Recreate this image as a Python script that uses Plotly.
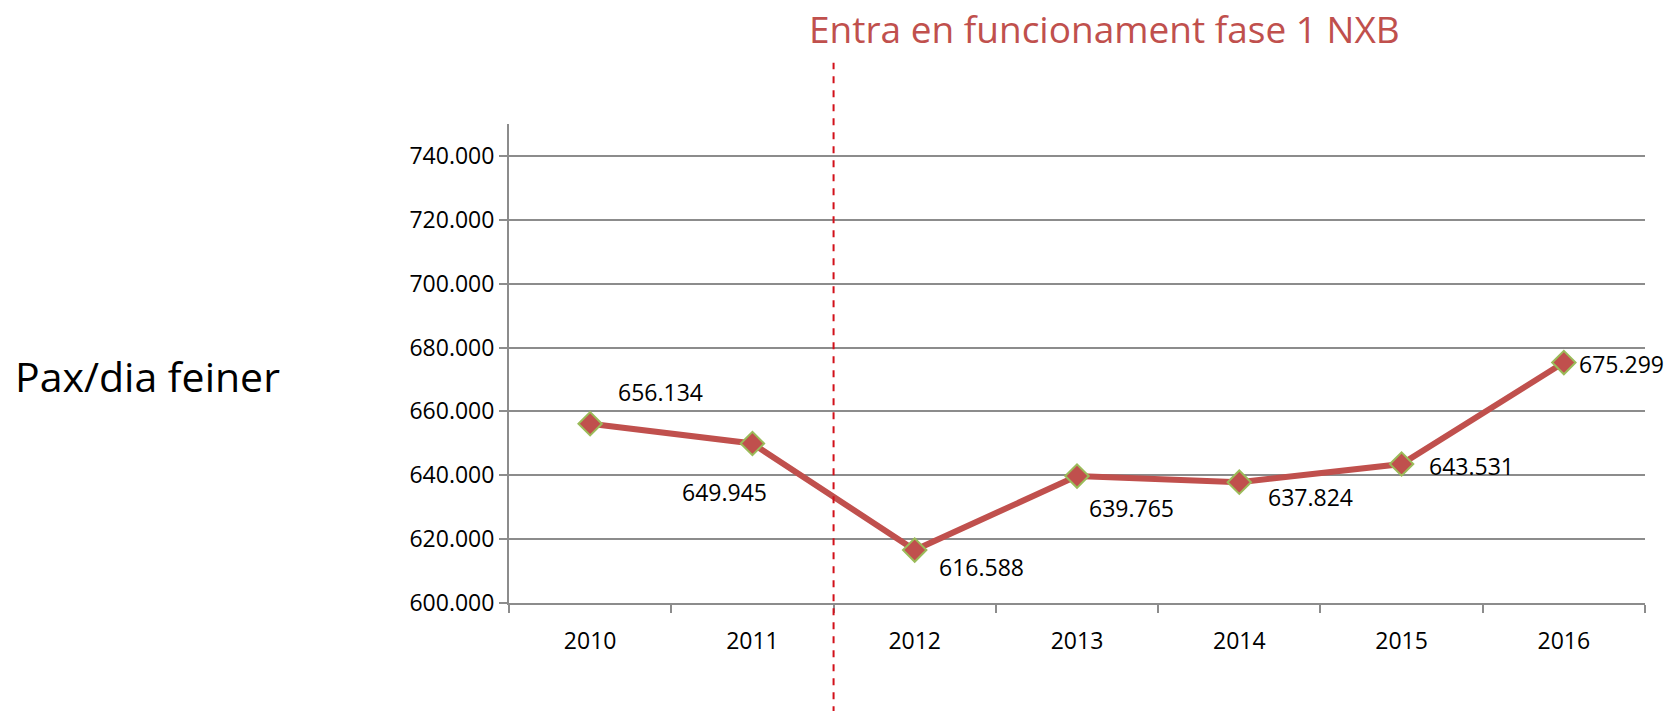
import plotly.graph_objects as go

years = ["2010", "2011", "2012", "2013", "2014", "2015", "2016"]
pax = [656.134, 649.945, 616.588, 639.765, 637.824, 643.531, 675.299]
label_text = ["656.134", "649.945", "616.588", "639.765", "637.824", "643.531", "675.299"]
ytick_vals = [600, 620, 640, 660, 680, 700, 720, 740]
ytick_text = ["600.000", "620.000", "640.000", "660.000", "680.000", "700.000", "720.000", "740.000"]

# label offsets in pixels (style, not data)
label_dx = [70, -28, 67, 54, 71, 70, 58]
label_dy = [32, -48, -17, -32, -15, -2, -1]

FONT = "Open Sans"
LINE_RED = "#C0504D"
GREEN = "#9BBB59"
GRID = "#8C8C8C"

fig = go.Figure()
fig.add_trace(go.Scatter(
    x=years, y=pax, mode="lines+markers",
    line=dict(color=LINE_RED, width=6),
    marker=dict(symbol="diamond", size=18, color=LINE_RED,
                line=dict(color=GREEN, width=2)),
    hoverinfo="skip", showlegend=False,
))

for i, (yv, t, dx, dy) in enumerate(zip(pax, label_text, label_dx, label_dy)):
    fig.add_annotation(x=i, y=yv, xref="x", yref="y", text=t, showarrow=False,
                       xshift=dx, yshift=dy, font=dict(family=FONT, size=23, color="#000000"))

# dashed vertical line between 2011 and 2012
fig.add_shape(type="line", xref="x", yref="paper", x0=1.5, x1=1.5, y0=-0.23, y1=1.128,
              line=dict(color="#D2101A", width=2, dash="7px,7px"), layer="above")

fig.add_annotation(xref="paper", yref="paper", x=(1104 - 509) / 1136, y=(603 - 28) / 479,
                   text="Entra en funcionament fase 1 NXB", showarrow=False,
                   xanchor="center", yanchor="middle",
                   font=dict(family=FONT, size=37, color=LINE_RED))
fig.add_annotation(xref="paper", yref="paper", x=(13 - 509) / 1136, y=(603 - 376) / 479,
                   text="Pax/dia feiner", showarrow=False, xanchor="left", yanchor="middle",
                   font=dict(family=FONT, size=41, color="#000000"))

fig.update_layout(
    width=1670, height=711,
    margin=dict(l=509, r=25, t=124, b=108),
    paper_bgcolor="white", plot_bgcolor="white",
    font=dict(family=FONT, size=23, color="#000000"),
    xaxis=dict(type="category", showgrid=False, showline=True, linecolor=GRID, linewidth=2,
               ticks="outside", tickson="boundaries", ticklen=8, tickcolor=GRID, tickwidth=2,
               ticklabelstandoff=16,
               tickfont=dict(family=FONT, size=23), range=[-0.5, 6.5], fixedrange=True),
    yaxis=dict(range=[600, 750], tickvals=ytick_vals, ticktext=ytick_text,
               showgrid=True, gridcolor=GRID, gridwidth=2, showline=True, linecolor=GRID,
               linewidth=2, ticks="outside", ticklen=8, tickcolor=GRID, tickwidth=2,
               tickfont=dict(family=FONT, size=23), zeroline=False, fixedrange=True),
)

fig.write_html("out.html")
